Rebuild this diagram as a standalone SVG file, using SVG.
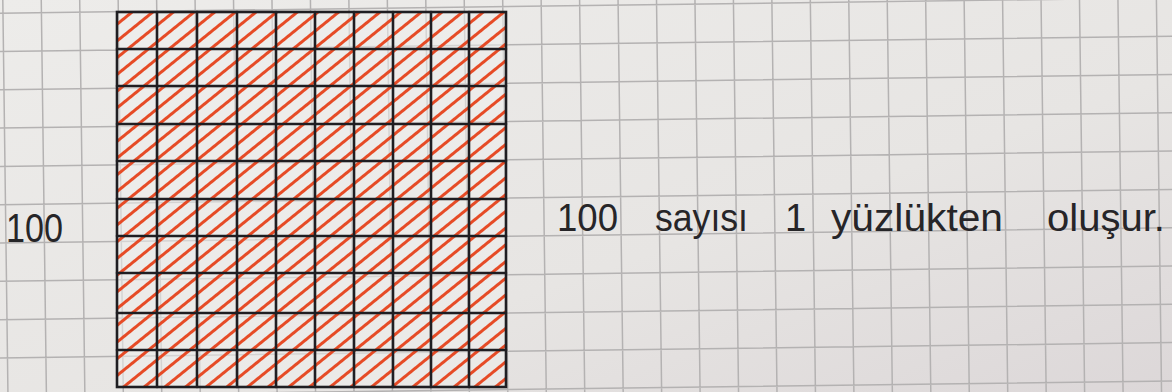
<svg xmlns="http://www.w3.org/2000/svg" width="1172" height="392" viewBox="0 0 1172 392">
  <defs>
    <linearGradient id="paper" x1="0" y1="0" x2="1" y2="1">
      <stop offset="0" stop-color="#edecea"/>
      <stop offset="0.6" stop-color="#e7e5e3"/>
      <stop offset="1" stop-color="#dcd7d8"/>
    </linearGradient>
    <pattern id="hatch" patternUnits="userSpaceOnUse" width="10" height="13" patternTransform="rotate(-39)">
      <rect x="0" y="0" width="10" height="3" fill="#e64b26"/>
    </pattern>
    <style>
      .pg { stroke: #b4b2b2; stroke-width: 1.5; fill: none; }
      .ink { stroke: #1f1e22; stroke-width: 2.6; fill: none; stroke-linecap: round; }
      .hand { font-family: "Liberation Sans", "DejaVu Sans", sans-serif; fill: #262528; }
    </style>
  </defs>

  <rect x="0" y="0" width="1172" height="392" fill="url(#paper)"/>

  <g id="paper-grid" transform="rotate(-0.75)">
    <path class="pg" d="
      M-35.65,-60 V460 M2.8,-60 V460 M41.25,-60 V460 M79.7,-60 V460 M118.15,-60 V460 M156.6,-60 V460
      M195.05,-60 V460 M233.5,-60 V460 M271.95,-60 V460 M310.4,-60 V460 M348.85,-60 V460 M387.3,-60 V460
      M425.75,-60 V460 M464.2,-60 V460 M502.65,-60 V460 M541.1,-60 V460 M579.55,-60 V460 M618,-60 V460
      M656.45,-60 V460 M694.9,-60 V460 M733.35,-60 V460 M771.8,-60 V460 M810.25,-60 V460 M848.7,-60 V460
      M887.15,-60 V460 M925.6,-60 V460 M964.05,-60 V460 M1002.5,-60 V460 M1040.95,-60 V460 M1079.4,-60 V460
      M1117.85,-60 V460 M1156.3,-60 V460 M1194.75,-60 V460
      M-60,-25.1 H1260 M-60,13.2 H1260 M-60,51.5 H1260 M-60,89.8 H1260 M-60,128.1 H1260 M-60,166.4 H1260
      M-60,204.7 H1260 M-60,243 H1260 M-60,281.3 H1260 M-60,319.6 H1260 M-60,357.9 H1260 M-60,396.2 H1260
      M-60,434.5 H1260"/>
  </g>

  <g id="hundred-square">
    <rect x="117" y="12" width="389" height="375" fill="#efeeec" opacity="0.55"/>
    <rect x="117" y="12" width="389" height="375" fill="url(#hatch)"/>
    <path class="ink" d="
      M157,12 V387 M197,12 V387 M237,12 V387 M276,12 V387 M315,12 V387
      M354,12 V387 M393,12 V387 M431,12 V387 M469,12 V387
      M117,49 H506 M117,86 H506 M117,124 H506 M117,161 H506 M117,199 H506
      M117,236 H506 M117,273 H506 M117,313 H506 M117,350 H506"/>
    <rect class="ink" x="117" y="12" width="389" height="375"/>
  </g>

  <g id="label-left">
    <text class="hand" x="6" y="242" font-size="40" textLength="57" lengthAdjust="spacingAndGlyphs">100</text>
  </g>

  <g id="label-right">
    <text class="hand" y="231" font-size="38" lengthAdjust="spacingAndGlyphs"><tspan x="557" textLength="61" lengthAdjust="spacingAndGlyphs">100</tspan> <tspan x="655" textLength="93" lengthAdjust="spacingAndGlyphs">sayısı</tspan> <tspan x="785">1</tspan> <tspan x="831" textLength="172" lengthAdjust="spacingAndGlyphs">yüzlükten</tspan> <tspan x="1047" textLength="118" lengthAdjust="spacingAndGlyphs">oluşur.</tspan></text>
  </g>
</svg>
